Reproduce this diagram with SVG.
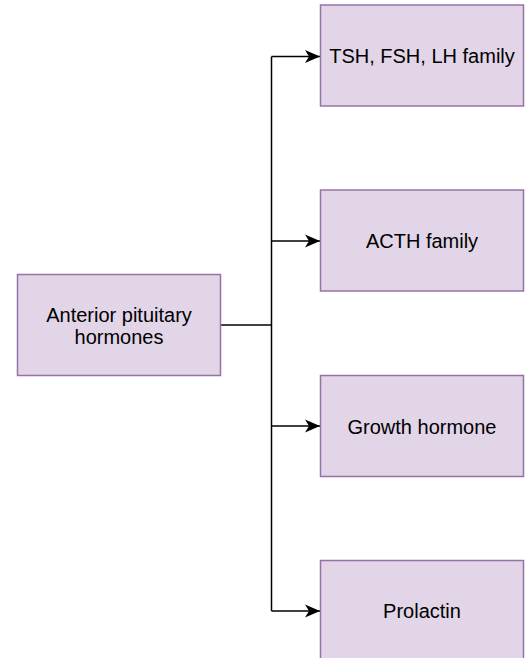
<svg xmlns="http://www.w3.org/2000/svg" width="531" height="658" viewBox="0 0 531 658">
<defs>
<style>
.box{fill:#e1d5e7;stroke:#9673a6;stroke-width:1.5}
.lbl{font-family:"Liberation Sans",Arial,sans-serif;font-size:20px;fill:#000;text-anchor:middle}
.edge{fill:none;stroke:#000;stroke-width:1.5}
</style>
<marker id="arr" markerWidth="16" markerHeight="14" refX="15" refY="7" orient="auto" markerUnits="userSpaceOnUse">
<path d="M0,0.5 L15,7 L0,13.5 L4,7 Z" fill="#000"/>
</marker>
</defs>
<rect width="531" height="658" fill="#fff"/>
<g id="connectors">
<path class="edge" d="M220.5,325 H271.5"/>
<path class="edge" d="M271.5,56.5 V611"/>
<path class="edge" d="M271.5,56.5 H320" marker-end="url(#arr)"/>
<path class="edge" d="M271.5,241 H320" marker-end="url(#arr)"/>
<path class="edge" d="M271.5,426 H320" marker-end="url(#arr)"/>
<path class="edge" d="M271.5,611 H320" marker-end="url(#arr)"/>
</g>
<g id="anterior">
<rect class="box" x="17.5" y="274.5" width="203" height="101"/>
<text class="lbl" x="119" y="321.7">Anterior pituitary</text>
<text class="lbl" x="119" y="344.3">hormones</text>
</g>
<g id="tsh">
<rect class="box" x="320.5" y="5" width="203" height="101"/>
<text class="lbl" x="422" y="63.3">TSH, FSH, LH family</text>
</g>
<g id="acth">
<rect class="box" x="320.5" y="190" width="203" height="101"/>
<text class="lbl" x="422" y="248.3">ACTH family</text>
</g>
<g id="gh">
<rect class="box" x="320.5" y="375.5" width="203" height="101"/>
<text class="lbl" x="422" y="434">Growth hormone</text>
</g>
<g id="prolactin">
<rect class="box" x="320.5" y="560.5" width="203" height="101"/>
<text class="lbl" x="422" y="618.3">Prolactin</text>
</g>
</svg>
